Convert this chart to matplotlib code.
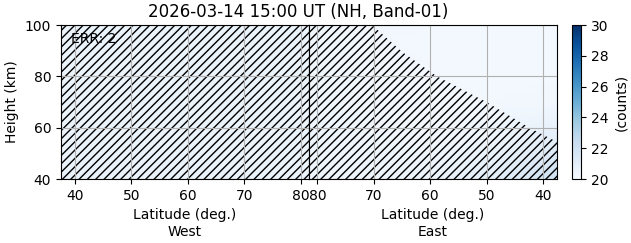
import matplotlib
matplotlib.use("Agg")
import matplotlib.pyplot as plt
import numpy as np

# naslov i oznake
naslov = "2026-03-14 15:00 UT (NH, Band-01)"
greska = "ERR: 2"

# mreza podataka (visina x sirina)
visine = [40, 55, 70, 85, 100]
sirine = [37.5, 48.5, 59.5, 70.5, 81.5]

zapad_counts = [
    [20.7, 20.7, 20.7, 20.6, 20.6],
    [20.6, 20.6, 20.6, 20.6, 20.6],
    [20.6, 20.6, 20.6, 20.6, 20.6],
    [20.6, 20.6, 20.6, 20.6, 20.6],
    [20.6, 20.6, 20.6, 20.6, 20.6],
]
istok_counts = [
    [22.0, 21.0, 20.6, 20.5, 20.5],
    [21.0, 20.5, 20.3, 20.4, 20.5],
    [20.3, 20.2, 20.2, 20.3, 20.4],
    [20.2, 20.2, 20.2, 20.3, 20.4],
    [20.2, 20.2, 20.2, 20.3, 20.4],
]

# granica srafiranog (nevaljanog) podrucja
zapad_maska_sirina = [37.5, 81.5]
zapad_maska_vrh = [100, 100]
istok_maska_sirina = [37.5, 42.4, 50.0, 58.8, 65.0, 70.3, 81.5]
istok_maska_vrh = [54.5, 60, 70, 80, 89.6, 100, 100]

x_ticks = [40, 50, 60, 70, 80]
y_ticks = [40, 60, 80, 100]
cb_ticks = [20, 22, 24, 26, 28, 30]

fig = plt.figure(figsize=(6.31, 2.43), dpi=100)
ax1 = fig.add_axes([0.0967, 0.263, 0.393, 0.634])
ax2 = fig.add_axes([0.4897, 0.263, 0.393, 0.634])
cax = fig.add_axes([0.9065, 0.263, 0.0143, 0.634])

# zapad
m = ax1.pcolormesh(sirine, visine, np.array(zapad_counts), cmap="Blues",
                   vmin=20, vmax=30, shading="gouraud")
ax1.fill_between(zapad_maska_sirina, 40, zapad_maska_vrh, facecolor="none",
                 edgecolor="black", hatch="////", linewidth=0)
ax1.set_xlim(37.5, 81.5)
ax1.set_ylim(40, 100)
ax1.set_xticks(x_ticks)
ax1.set_yticks(y_ticks)
ax1.grid(True)
ax1.set_xlabel("Latitude (deg.)\nWest")
ax1.set_ylabel("Height (km)")
ax1.text(0.04, 0.955, greska, transform=ax1.transAxes, va="top", ha="left")

# istok
ax2.pcolormesh(sirine, visine, np.array(istok_counts), cmap="Blues",
               vmin=20, vmax=30, shading="gouraud")
ax2.fill_between(istok_maska_sirina, 40, istok_maska_vrh, facecolor="none",
                 edgecolor="black", hatch="////", linewidth=0)
ax2.set_xlim(81.5, 37.5)
ax2.set_ylim(40, 100)
ax2.set_xticks(x_ticks)
ax2.set_yticks(y_ticks)
ax2.tick_params(left=False, labelleft=False)
ax2.grid(True)
ax2.set_xlabel("Latitude (deg.)\nEast")

cb = fig.colorbar(m, cax=cax, ticks=cb_ticks)
cb.set_label("(counts)")

fig.text(0.473, 1 - 17 / 243, naslov, ha="center", va="baseline", fontsize=12)

fig.savefig("out.png", dpi=100)
